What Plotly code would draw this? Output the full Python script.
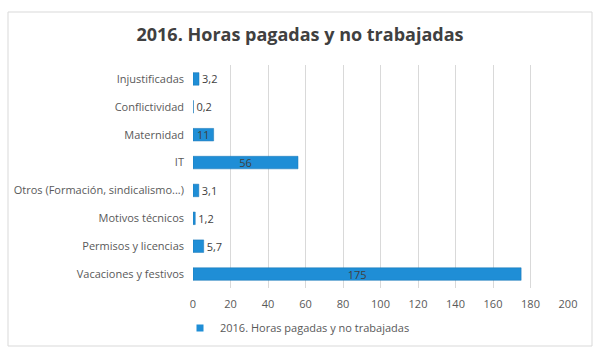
import plotly.graph_objects as go

categories = ["Injustificadas", "Conflictividad", "Maternidad", "IT",
              "Otros (Formación, sindicalismo...)", "Motivos técnicos",
              "Permisos y licencias", "Vacaciones y festivos"]
values = [3.2, 0.2, 11, 56, 3.1, 1.2, 5.7, 175]
series_name = "2016. Horas pagadas y no trabajadas"
x_ticks = [0, 20, 40, 60, 80, 100, 120, 140, 160, 180, 200]

labels = [f"{v:g}".replace(".", ",") for v in values]
positions = ["inside" if v >= 10 else "outside" for v in values]

FONT = "Open Sans"
BLUE = "#1F8ED6"
fig = go.Figure()
fig.add_trace(go.Bar(
    x=values, y=categories, orientation="h", name=series_name,
    marker=dict(color=BLUE, line=dict(color="#1675B5", width=0.5)),
    width=0.45, showlegend=False,
    text=labels, textposition=positions, insidetextanchor="middle",
    textangle=0,
    textfont=dict(family=FONT, size=11, color="#404040"),
    outsidetextfont=dict(family=FONT, size=11, color="#404040"),
    insidetextfont=dict(family=FONT, size=11, color="#404040"),
    cliponaxis=False, constraintext="none",
))
# legend entry with a small square marker, like the reference
fig.add_trace(go.Scatter(
    x=[None], y=[None], mode="markers", name=series_name,
    marker=dict(symbol="square", size=7, color=BLUE), showlegend=True,
))

L, R, T, B = 193, 32, 65, 67
W, H = 600, 355
pw, ph = W - L - R, H - T - B
fig.add_shape(type="rect", xref="paper", yref="paper",
              x0=(8 - L) / pw, x1=(592 - L) / pw,
              y0=(H - B - 346) / ph, y1=(H - B - 12) / ph,
              line=dict(color="#D9D9D9", width=1), fillcolor="rgba(0,0,0,0)",
              layer="below")

fig.update_layout(
    width=W, height=H,
    margin=dict(l=L, r=R, t=T, b=B),
    paper_bgcolor="white", plot_bgcolor="white",
    title=dict(text="<b>2016. Horas pagadas y no trabajadas</b>",
               x=0.5, xanchor="center", y=1 - 35 / H, yanchor="middle",
               font=dict(family=FONT, size=18, color="#404040")),
    xaxis=dict(range=[0, 200], tickvals=x_ticks, showgrid=True,
               gridcolor="#D9D9D9", gridwidth=1, zeroline=False,
               showline=False, ticks="", ticklabelstandoff=8,
               tickfont=dict(family=FONT, size=11, color="#595959")),
    yaxis=dict(autorange="reversed", showgrid=False, ticks="",
               showline=False, ticklabelstandoff=8,
               tickfont=dict(family=FONT, size=11, color="#595959")),
    showlegend=True,
    legend=dict(orientation="h", x=(180 - L) / pw, xanchor="left",
                y=-(328 - (H - B)) / ph, yanchor="middle",
                font=dict(family=FONT, size=11, color="#595959"),
                itemwidth=30),
    bargap=0.55,
)

fig.write_html("out.html", config={"displayModeBar": False},
               post_script="document.body.style.margin='0';")
